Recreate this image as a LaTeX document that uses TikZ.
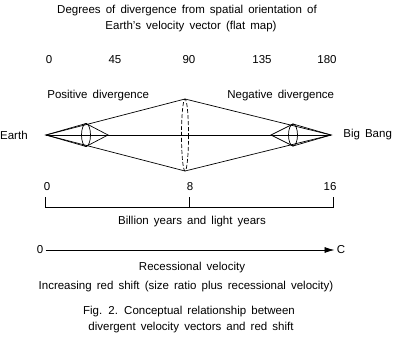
\documentclass[tikz,border=0pt]{standalone}
\usepackage{fontspec}
\setmainfont[WordSpace=1.6]{Liberation Sans}
\usepackage{tikz}
\usetikzlibrary{arrows.meta, positioning, calc}
\newcommand{\lblfont}{\fontsize{11.5}{13}\selectfont}

\begin{document}
\begin{tikzpicture}[x=1pt,y=-1pt,line width=0.7pt,
    every node/.style={font=\lblfont,inner sep=0pt}]
  \useasboundingbox (0,0) rectangle (399,337);
  % heading and degree scale
  \node (head1) at (187,11) {Degrees of divergence from spatial orientation of};
  \node (head2) at (191,27) {Earth's velocity vector (flat map)};
  \foreach \d/\x in {0/49,45/115,90/189,135/262,180/327}
    \node (deg\d) at (\x,60) {\d};
  \node[anchor=west] (posdiv) at (47,96) {Positive divergence};
  \node[anchor=west] (negdiv) at (227,96) {Negative divergence};
  % outer diamond
  \coordinate (earth) at (46,135);
  \coordinate (bang) at (331,135);
  \coordinate (top) at (185,99);
  \coordinate (bot) at (185,171);
  \node[left=18pt of earth] (earthlbl) {Earth};
  \node[right=12pt of bang] (banglbl) {Big Bang};
  \draw (earth) -- (top) -- (bang) -- (bot) -- cycle;
  \draw (earth) -- (bang);
  \draw[dash pattern=on 4pt off 2pt] (185,135) ellipse [x radius=3.5, y radius=36];
  % small cones
  \coordinate (ltop) at (86,123.5);
  \coordinate (lbot) at (86,146.5);
  \coordinate (lapex) at (108,135);
  \draw (earth) -- (ltop) -- (lapex) -- (lbot) -- cycle;
  \draw (86,135) ellipse [x radius=4.5, y radius=11.5];
  \coordinate (rtop) at (293,124);
  \coordinate (rbot) at (293,146);
  \coordinate (rapex) at (271,135);
  \draw (bang) -- (rtop) -- (rapex) -- (rbot) -- cycle;
  \draw (293,135) ellipse [x radius=4.5, y radius=11];
  % time scale
  \node (yr0) at (47,187) {0};
  \node (yr8) at (190,187) {8};
  \node (yr16) at (330,187) {16};
  \coordinate (bar0) at (45,207);
  \coordinate (bar8) at (189,207);
  \coordinate (bar16) at (333,207);
  \draw (bar0) ++(0,-10) -- (bar0) -- (bar16) -- ++(0,-10);
  \draw (bar8) -- ++(0,-10);
  \node (years) at (192,222) {Billion years and light years};
  % velocity arrow
  \node (vel0) at (40,250) {0};
  \node (velc) at (341,250) {C};
  \draw[-{Latex[length=10pt,width=6pt]},shorten <=2pt,shorten >=2pt] (vel0) -- (velc);
  \node (recvel) at (192,268) {Recessional velocity};
  \node (redshift) at (186,287) {Increasing red shift (size ratio plus recessional velocity)};
  % caption
  \node (cap1) at (189,312) {Fig. 2. Conceptual relationship between};
  \node (cap2) at (191,328) {divergent velocity vectors and red shift};
\end{tikzpicture}
\end{document}
